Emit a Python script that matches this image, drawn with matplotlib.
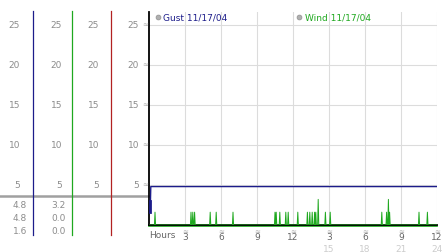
import numpy as np
import matplotlib.pyplot as plt

# --- data ---
gust_hours = [0.0, 0.1, 0.15, 24.0]
gust_speed = [1.6, 1.6, 4.8, 4.8]

wind_spike_hours = [0.5, 3.5, 3.65, 3.8, 5.1, 5.6, 7.0, 10.5, 10.6, 10.9, 11.4, 11.6,
                    12.4, 13.2, 13.4, 13.6, 13.8, 13.9, 14.1, 14.7, 15.1,
                    19.4, 19.8, 19.95, 20.05, 22.5, 23.2]
wind_spike_speed = [1.6, 1.6, 1.6, 1.6, 1.6, 1.6, 1.6, 1.6, 1.6, 1.6, 1.6, 1.6,
                    1.6, 1.6, 1.6, 1.6, 1.6, 1.6, 3.2, 1.6, 1.6,
                    1.6, 1.6, 3.2, 1.6, 1.6, 1.6]

y_ticks = [5, 10, 15, 20, 25]
x_ticks = [3, 6, 9, 12, 15, 18, 21, 24]
x_top_labels = ["3", "6", "9", "12", "3", "6", "9", "12"]
x_low_labels = ["", "", "", "", "15", "18", "21", "24"]

gust_stats = ["4.8", "4.8", "1.6"]
wind_stats = ["3.2", "0.0", "0.0"]

gust_col = "#1c1c8a"
wind_col = "#1fa81f"
grey = "#8c8c8c"

# wind line: zero between readings, peak at each spike
wx, wy = [0.0], [0.0]
for h, s in zip(wind_spike_hours, wind_spike_speed):
    wx += [h - 0.05, h, h + 0.05]
    wy += [0.0, s, 0.0]
wx.append(24.0)
wy.append(0.0)

W, H = 442, 253
fig = plt.figure(figsize=(W / 100, H / 100), dpi=100)
ax = fig.add_axes([149 / W, (H - 226) / H, 288 / W, 213 / H])
ax.set_xlim(0, 24)
ax.set_ylim(0, 26.6)

for y in y_ticks:
    ax.axhline(y, color="#dcdcdc", lw=0.8, zorder=0)
for x in x_ticks:
    ax.axvline(x, color="#dcdcdc", lw=0.8, zorder=0)

ax.plot(wx, wy, color=wind_col, lw=0.7, zorder=3)
ax.axhline(-0.12, color=wind_col, lw=1.2, zorder=2, clip_on=False)
ax.plot(gust_hours, gust_speed, color=gust_col, lw=1.0, zorder=4)
ax.plot([0.1, 0.1], [1.6, 3.0], color=gust_col, lw=2.0, zorder=4)

for s in ["top", "right"]:
    ax.spines[s].set_visible(False)
ax.spines["left"].set_linewidth(1.3)
ax.spines["bottom"].set_linewidth(1.3)
ax.set_xticks([])
ax.set_yticks([])

tr = ax.get_yaxis_transform()   # x in axes fraction, y in data
def fx(px):
    return (px - 149) / 288

# left table: value columns with coloured separators
col_right = [20, 62, 99, 139]
for y in y_ticks:
    for cx in col_right:
        ax.text(fx(cx), y, str(y), transform=tr, ha="right", va="center",
                fontsize=6.5, color=grey, clip_on=False)
    ax.text(fx(145.5), y + 0.15, "≈", transform=tr, ha="center", va="center",
            fontsize=5, color="#aaaaaa", clip_on=False)
for cx, c in zip([33, 72, 111], [gust_col, wind_col, "#b22222"]):
    ax.plot([fx(cx), fx(cx)], [-1.3, 26.75], transform=tr, color=c, lw=0.9,
            clip_on=False)
ax.plot([fx(0), fx(149)], [3.6, 3.6], transform=tr, color="#a0a0a0", lw=1.8,
        clip_on=False, zorder=1)
for i, (g, w) in enumerate(zip(gust_stats, wind_stats)):
    yy = 2.6 - i * 1.65
    ax.text(fx(27), yy, g, transform=tr, ha="right", va="center",
            fontsize=6.5, color=grey, clip_on=False)
    ax.text(fx(66), yy, w, transform=tr, ha="right", va="center",
            fontsize=6.5, color=grey, clip_on=False)

# x labels
xt = ax.get_xaxis_transform()
for x, a, b in zip(x_ticks, x_top_labels, x_low_labels):
    ax.text(x, -0.012, "≈", transform=xt, ha="center", va="top",
            fontsize=5, color="#aaaaaa", clip_on=False)
    ax.text(x, -0.035, a, transform=xt, ha="center", va="top",
            fontsize=6.5, color="#666666", clip_on=False)
    if b:
        ax.text(x, -0.09, b, transform=xt, ha="center", va="top",
                fontsize=6.5, color="#cccccc", clip_on=False)
ax.text(0.01, -0.022, "Hours", transform=xt, ha="left", va="top",
        fontsize=6.5, color="#666666", clip_on=False)

# legend labels
ax.plot([0.03], [0.975], "o", transform=ax.transAxes, ms=3.5,
        mfc="#b0b0b0", mec="#909090", mew=0.5, clip_on=False)
ax.text(0.05, 0.975, "Gust 11/17/04", transform=ax.transAxes, ha="left",
        va="center", fontsize=6.5, color=gust_col)
ax.plot([0.52], [0.975], "o", transform=ax.transAxes, ms=3.5,
        mfc="#b0b0b0", mec="#909090", mew=0.5, clip_on=False)
ax.text(0.54, 0.975, "Wind 11/17/04", transform=ax.transAxes, ha="left",
        va="center", fontsize=6.5, color=wind_col)

plt.savefig("out.png", dpi=100)
